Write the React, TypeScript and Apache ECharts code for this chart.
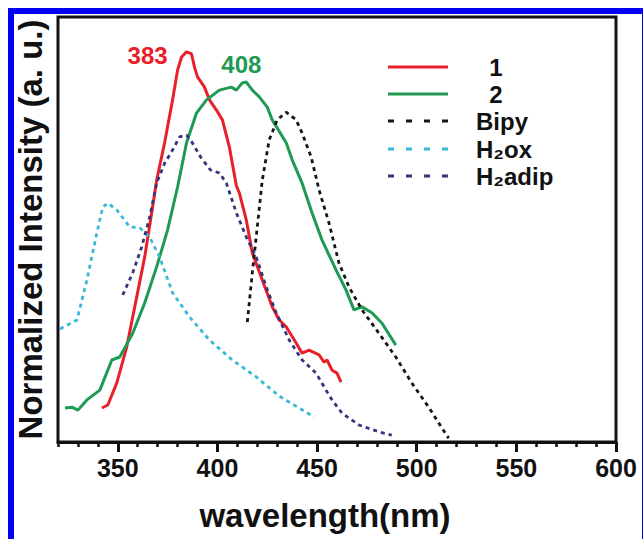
import React, { useEffect, useRef } from 'react';
import * as echarts from 'echarts';

const FONT = '"Liberation Sans", Arial, Helvetica, sans-serif';

const majorTicks = [350, 400, 450, 500, 550, 600];

const legendNames = ['1', '2', 'Bipy', 'H₂ox', 'H₂adip'];
const seriesColors = ['#e8202a', '#1f9a52', '#151515', '#3ab8d8', '#35357c'];

const series1: number[][] = [
  [342, 8.0], [345, 8.7], [349.5, 13.9], [354.5, 22.4], [358.5, 31.8], [363.5, 43.5],
  [367, 53.9], [369.5, 61.6], [373.5, 70.4], [377.5, 80.5], [380, 87.5], [382, 90.6],
  [384.5, 91.8], [387, 91.3], [388.5, 88.2], [390, 85.9], [393.5, 83.5], [396, 80.5],
  [399.5, 78.1], [402.5, 75.8], [406, 69.4], [409.5, 60.3], [411, 58.6], [414.5, 52.2],
  [417.5, 44.5], [422.5, 38.1], [427.5, 31.8], [431, 28.7], [434.5, 27.1], [439.5, 23.3],
  [442.5, 20.9], [446, 21.6], [451, 20.5], [453.5, 18.8], [455, 19.3], [457.5, 16.9],
  [460, 16.2], [462, 14.1],
];

const series2: number[][] = [
  [323.5, 8.0], [327, 8.2], [330, 7.5], [334.5, 9.9], [341, 12.2], [347, 19.3],
  [351, 20.0], [357.5, 25.6], [363.5, 32.7], [369.5, 41.2], [375, 49.9], [380, 60.0],
  [384.5, 70.4], [389.5, 77.4], [394.5, 80.5], [401, 82.8], [407, 83.5], [409.5, 82.8],
  [412.5, 84.5], [414.5, 84.7], [417.5, 82.8], [421, 81.2], [425, 78.8], [427.5, 75.8],
  [434.5, 70.4], [437.5, 66.4], [442.5, 60.9], [447.5, 53.9], [452.5, 47.5], [459.5, 40.5],
  [464.5, 35.8], [468.5, 31.1], [472.5, 31.8], [477.5, 30.4], [482.5, 28.0], [489.5, 22.8],
];

const seriesBipy: number[][] = [
  [415, 28.2], [417.5, 39.8], [420, 50.6], [422.5, 61.6], [426, 71.1], [430, 75.8],
  [434.5, 77.6], [439.5, 75.8], [442.5, 72.7], [447, 67.1], [451, 59.3], [456, 51.5],
  [461, 42.1], [466, 36.5], [472.5, 31.1], [481, 25.6], [489.5, 20.0], [497.5, 13.9],
  [506, 8.2], [511, 4.5], [516, 0.9],
];

const seriesH2ox: number[][] = [
  [321, 26.6], [329.5, 28.7], [334.5, 38.1], [339.5, 49.2], [342.5, 55.3], [345, 56.2],
  [349.5, 54.6], [356, 50.6], [361, 50.4], [366, 48.2], [371, 43.5], [377.5, 35.1],
  [386, 29.4], [396, 24.0], [407.5, 19.3], [419.5, 15.3], [431, 10.8], [441, 8.0],
  [448.5, 5.9],
];

const seriesH2adip: number[][] = [
  [352.5, 34.6], [357.5, 39.8], [362, 45.9], [366, 52.9], [369.5, 60.9], [373.5, 65.6],
  [377.5, 68.7], [381, 71.8], [384.5, 72.2], [386.5, 71.1], [391.5, 67.1], [396.5, 64.0],
  [401, 63.3], [404.5, 60.9], [409.5, 53.9], [414.5, 48.2], [419.5, 43.5], [424.5, 36.5],
  [429.5, 30.4], [436, 24.0], [442.5, 19.3], [449.5, 16.2], [454.5, 12.2], [457.5, 9.9],
  [462.5, 6.8], [471, 4.0], [481, 2.4], [487.5, 1.6],
];

const peakLabels = [
  { text: '383', x: 383, y: 91.8 },
  { text: '408', x: 408, y: 83.3 },
];

const allSeries = [series1, series2, seriesBipy, seriesH2ox, seriesH2adip];
const dashed = [false, false, true, true, true];

export default function App() {
  const ref = useRef<HTMLDivElement>(null);

  useEffect(() => {
    document.body.style.margin = '0';
    const chart = echarts.init(ref.current!, undefined, { renderer: 'svg' });

    const legendY = [67, 94, 121, 149, 176];
    const legendGraphics: any[] = [];
    legendNames.forEach((name, i) => {
      legendGraphics.push({
        type: 'line',
        shape: { x1: 388, y1: legendY[i], x2: 448, y2: legendY[i] },
        style: {
          stroke: seriesColors[i],
          lineWidth: 3,
          lineDash: dashed[i] ? [6, 12] : null,
        },
      });
      const centered = i < 2;
      legendGraphics.push({
        type: 'text',
        style: {
          text: name,
          x: centered ? 496 : 476,
          y: legendY[i],
          fill: '#111',
          font: `bold 24px ${FONT}`,
          align: centered ? 'center' : 'left',
          verticalAlign: 'middle',
          textAlign: centered ? 'center' : 'left',
          textVerticalAlign: 'middle',
        },
      });
    });

    const series: any[] = allSeries.map((data, i) => ({
      name: legendNames[i],
      type: 'line',
      xAxisIndex: 1,
      data,
      showSymbol: false,
      symbol: 'none',
      lineStyle: {
        color: seriesColors[i],
        width: dashed[i] ? 2.8 : 3,
        type: dashed[i] ? [4, 4] : 'solid',
      },
      z: 3,
    }));

    const labelOffsets = [[-36, 4], [8, -23]];
    [0, 1].forEach((si) => {
      const p = peakLabels[si];
      series[si].markPoint = {
        symbol: 'circle',
        symbolSize: 1,
        itemStyle: { color: 'rgba(0,0,0,0)' },
        label: {
          show: true,
          position: 'inside',
          formatter: p.text,
          offset: labelOffsets[si],
          color: seriesColors[si],
          fontSize: 24,
          fontWeight: 'bold',
          fontFamily: FONT,
        },
        data: [{ coord: [p.x, p.y] }],
      };
    });

    chart.setOption({
      animation: false,
      backgroundColor: '#fff',
      grid: {
        left: 58,
        right: 27,
        top: 17,
        bottom: 97,
        show: true,
        borderColor: '#111',
        borderWidth: 3,
        backgroundColor: 'transparent',
      },
      xAxis: [
        {
          type: 'value',
          min: 320,
          max: 600,
          interval: 10,
          position: 'bottom',
          axisLine: { show: false },
          axisTick: { show: true, length: 5, lineStyle: { color: '#111', width: 2.5 } },
          axisLabel: { show: false },
          splitLine: { show: false },
        },
        {
          type: 'value',
          min: 320,
          max: 600,
          position: 'bottom',
          axisLine: { show: true, onZero: false, lineStyle: { color: '#111', width: 3 } },
          axisTick: {
            show: true,
            length: 10,
            customValues: majorTicks,
            lineStyle: { color: '#111', width: 3 },
          },
          axisLabel: {
            show: true,
            customValues: majorTicks,
            formatter: (v: number) => (v % 50 === 0 ? String(v) : ''),
            margin: 13,
            color: '#111',
            fontSize: 25,
            fontWeight: 'bold',
            fontFamily: FONT,
          },
          splitLine: { show: false },
          name: 'wavelength(nm)',
          nameLocation: 'middle',
          nameGap: 57,
          nameTextStyle: {
            color: '#111',
            fontSize: 33,
            fontWeight: 'bold',
            fontFamily: FONT,
            padding: [0, 24, 0, 0],
          },
        },
      ],
      yAxis: {
        type: 'value',
        min: 0,
        max: 100,
        axisLine: { show: false },
        axisTick: { show: false },
        axisLabel: { show: false },
        splitLine: { show: false },
        name: 'Normalized Intensity (a. u.)',
        nameLocation: 'middle',
        nameGap: 11,
        nameTextStyle: { color: '#111', fontSize: 33, fontWeight: 'bold', fontFamily: FONT },
      },
      graphic: [
        {
          type: 'rect',
          shape: { x: 11, y: 11, width: 634, height: 540 },
          style: { fill: 'none', stroke: '#0000f2', lineWidth: 6 },
          z: 100,
        },
        ...legendGraphics,
      ],
      series,
    });

    return () => chart.dispose();
  }, []);

  return (
    <div
      ref={ref}
      style={{ position: 'fixed', left: 0, top: 0, width: 643, height: 539, background: '#fff' }}
    />
  );
}
